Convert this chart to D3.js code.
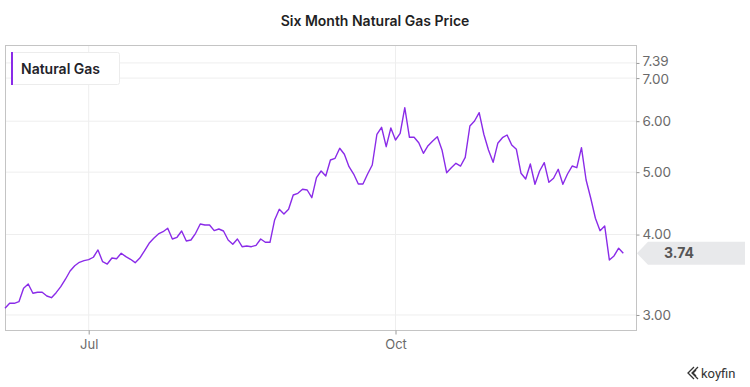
<!DOCTYPE html>
<html><head><meta charset="utf-8">
<script src="https://cdn.jsdelivr.net/npm/d3@7"></script>
<style>
html,body{margin:0;padding:0;background:#fff;}
svg{display:block;font-family:Inter,"Noto Sans",sans-serif;}
</style></head>
<body><svg id="chart" width="750" height="387"></svg>
<script>
const title = "Six Month Natural Gas Price";
const seriesName = "Natural Gas";
const prices = [3.073,3.128,3.128,3.146,3.301,3.352,3.242,3.254,3.254,3.211,3.191,3.249,3.320,3.409,3.511,3.578,3.622,3.643,3.656,3.688,
3.785,3.630,3.600,3.678,3.669,3.741,3.696,3.661,3.617,3.678,3.772,3.877,3.947,4.008,4.041,4.091,3.937,3.961,4.051,3.909,
3.923,4.018,4.154,4.139,4.139,4.056,4.080,4.051,3.923,3.863,3.937,3.830,3.840,3.830,3.849,3.937,3.891,3.891,4.214,4.378,
4.305,4.378,4.608,4.636,4.703,4.691,4.564,4.902,5.021,4.932,5.223,5.254,5.446,5.330,5.099,4.967,4.793,4.793,4.967,5.130,
5.726,5.871,5.477,5.856,5.610,5.746,6.296,5.664,5.664,5.556,5.349,5.496,5.590,5.677,5.413,4.990,5.081,5.161,5.111,5.273,
5.898,6.004,6.185,5.726,5.413,5.179,5.544,5.656,5.711,5.510,5.427,4.980,4.880,5.148,4.788,5.021,5.172,4.822,4.892,5.052,
4.788,4.967,5.111,5.081,5.458,4.862,4.554,4.240,4.056,4.124,3.652,3.705,3.809,3.74];
const yTicks = [3, 4, 5, 6, 7, 7.39];
const xTickLabels = ["Jul", "Oct"];
const xTickIndex = [18, 84];
const lastLabel = "3.74";

const svg = d3.select("#chart");
const L = 5, R = 636, T = 45, B = 330;
const purple = "#8a2be8";

const x = d3.scaleLinear().domain([0, prices.length - 1]).range([L, 623.3]);
const y = d3.scaleLog().domain([2.843, 7.88]).range([B, T]);

// title
svg.append("text").attr("x", 375).attr("y", 26).attr("text-anchor", "middle")
  .attr("font-size", 14).attr("font-weight", 600).attr("fill", "#1f1f24").text(title);

// grid
const g = svg.append("g");
g.selectAll(".hg").data(yTicks).join("line")
  .attr("x1", L).attr("x2", R).attr("y1", d => y(d)).attr("y2", d => y(d))
  .attr("stroke", "#eeeeee").attr("stroke-width", 1);
g.selectAll(".vg").data(xTickIndex).join("line")
  .attr("x1", d => x(d)).attr("x2", d => x(d)).attr("y1", T).attr("y2", B)
  .attr("stroke", "#eeeeee").attr("stroke-width", 1);

// frame
svg.append("rect").attr("x", L + 0.5).attr("y", T + 0.5).attr("width", R - L).attr("height", B - T)
  .attr("fill", "none").attr("stroke", "#c4c4c4").attr("stroke-width", 1);

// y axis
const yAxis = d3.axisRight(y).tickValues(yTicks).tickFormat(d3.format(".2f")).tickSize(3).tickPadding(3);
const ya = svg.append("g").attr("transform", `translate(${R + 0.5},0)`).call(yAxis);
ya.select(".domain").remove();
ya.selectAll("line").attr("stroke", "#999");
ya.selectAll("text").attr("font-size", 13.5).attr("fill", "#6a6a6a").attr("font-family", "Inter, sans-serif");
ya.selectAll(".tick").filter(d => d === 7.39).select("text").attr("dy", "0.2em");
ya.selectAll(".tick").filter(d => d === 7).select("text").attr("dy", "0.42em");

// x axis
const xAxis = d3.axisBottom(x).tickValues(xTickIndex).tickFormat((d, i) => xTickLabels[i]).tickSize(4).tickPadding(5);
const xa = svg.append("g").attr("transform", `translate(0,${B + 0.5})`).call(xAxis);
xa.select(".domain").remove();
xa.selectAll("line").attr("stroke", "#999");
xa.selectAll("text").attr("font-size", 13).attr("fill", "#6a6a6a").attr("font-family", "Inter, sans-serif");

// line
const line = d3.line().x((d, i) => x(i)).y(d => y(d));
svg.append("path").datum(prices).attr("d", line)
  .attr("fill", "none").attr("stroke", purple).attr("stroke-width", 1.4).attr("stroke-linejoin", "round");

// legend
const lg = svg.append("g");
lg.append("rect").attr("x", 11.5).attr("y", 52.5).attr("width", 108).attr("height", 32).attr("rx", 2)
  .attr("fill", "#fff").attr("stroke", "#ececec");
lg.append("rect").attr("x", 11).attr("y", 52).attr("width", 2).attr("height", 33).attr("fill", purple);
lg.append("text").attr("x", 21).attr("y", 74).attr("font-size", 14).attr("font-weight", 600)
  .attr("fill", "#23232a").text(seriesName);

// last price label
const ly = y(prices[prices.length - 1]);
svg.append("path")
  .attr("d", `M637,${ly} L648,${ly - 11.5} L745,${ly - 11.5} L745,${ly + 11.5} L648,${ly + 11.5} Z`)
  .attr("fill", "#e8e9eb");
svg.append("text").attr("x", 679).attr("y", ly + 5).attr("text-anchor", "middle")
  .attr("font-size", 14).attr("font-weight", 700).attr("fill", "#555").text(lastLabel);

// koyfin logo
const kg = svg.append("g").attr("transform", "translate(687,367)");
kg.append("path").attr("d", "M7,0 L1,6 L7,12 M11,0 L5,6 L11,12 M9,3 L6,6 L9,9")
  .attr("fill", "none").attr("stroke", "#333").attr("stroke-width", 1.3);
svg.append("text").attr("x", 701).attr("y", 378).attr("font-size", 13).attr("fill", "#333")
  .attr("font-family", "Roboto, sans-serif").text("koyfin");
</script></body></html>
